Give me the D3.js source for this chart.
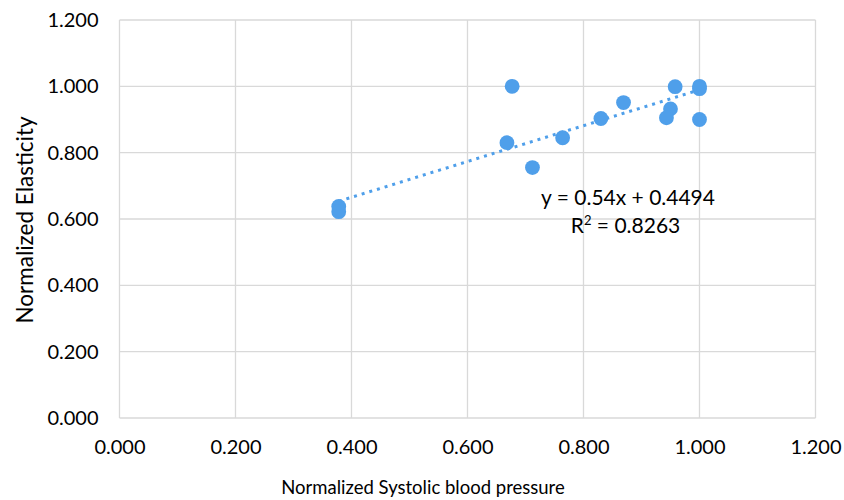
<!DOCTYPE html>
<html>
<head>
<meta charset="utf-8">
<script src="https://cdn.jsdelivr.net/npm/d3@7"></script>
<style>
  html, body { margin: 0; padding: 0; background: #fff; }
  svg { display: block; }
  text { font-family: Lato, "Open Sans", sans-serif; fill: #000; }
</style>
</head>
<body>
<svg id="chart" width="844" height="500"></svg>
<script>
// Normalized systolic blood pressure (x) vs normalized elasticity (y)
const pressure   = [0.378, 0.378, 0.677, 0.668, 0.712, 0.764, 0.830, 0.869, 0.958, 0.950, 0.943, 1.000, 1.000, 1.000];
const elasticity = [0.638, 0.622, 1.000, 0.830, 0.755, 0.845, 0.903, 0.951, 0.999, 0.932, 0.905, 1.000, 0.993, 0.900];
const xTicks = [0, 0.2, 0.4, 0.6, 0.8, 1.0, 1.2];
const yTicks = [0, 0.2, 0.4, 0.6, 0.8, 1.0, 1.2];
// Linear trendline coefficients
const slope = 0.54;
const intercept = 0.4494;
const rSquared = 0.8263;

const svg = d3.select("#chart");
const x = d3.scaleLinear().domain([0, 1.2]).range([119.5, 815.5]);
const y = d3.scaleLinear().domain([0, 1.2]).range([418, 20]);
const color = "#4f9fea";
const grid = "#d9d9d9";
const fmt = d3.format(".3f");

// Gridlines
svg.append("g").selectAll("line").data(yTicks).join("line")
  .attr("x1", x(0)).attr("x2", x(1.2))
  .attr("y1", d => y(d)).attr("y2", d => y(d))
  .attr("stroke", grid).attr("stroke-width", 1.3);
svg.append("g").selectAll("line").data(xTicks).join("line")
  .attr("y1", y(0)).attr("y2", y(1.2))
  .attr("x1", d => x(d)).attr("x2", d => x(d))
  .attr("stroke", grid).attr("stroke-width", 1.3);

// Axes (labels only)
const xAxis = svg.append("g").attr("transform", `translate(0,${y(0)})`)
  .call(d3.axisBottom(x).tickValues(xTicks).tickFormat(fmt).tickSize(0).tickPadding(22));
const yAxis = svg.append("g").attr("transform", `translate(${x(0)},0)`)
  .call(d3.axisLeft(y).tickValues(yTicks).tickFormat(fmt).tickSize(0).tickPadding(21));
[xAxis, yAxis].forEach(g => {
  g.select(".domain").remove();
  g.selectAll("text").attr("font-size", 20).attr("fill", "#1a1a1a")
    .style("font-family", "Lato, 'Open Sans', sans-serif");
});

// Trendline (dotted)
const xs = d3.extent(pressure);
svg.append("line")
  .attr("x1", x(xs[0])).attr("y1", y(slope * xs[0] + intercept))
  .attr("x2", x(xs[1])).attr("y2", y(slope * xs[1] + intercept))
  .attr("stroke", color).attr("stroke-width", 3)
  .attr("stroke-dasharray", "3,5").attr("stroke-linecap", "butt");

// Points
svg.append("g").selectAll("circle").data(pressure.map((p, i) => [p, elasticity[i]])).join("circle")
  .attr("cx", d => x(d[0])).attr("cy", d => y(d[1])).attr("r", 7.4)
  .attr("fill", color);

// Equation label
svg.append("text").attr("x", 628).attr("y", 205).attr("text-anchor", "middle")
  .attr("font-size", 21).text(`y = ${slope}x + ${intercept}`);
const r2 = svg.append("text").attr("x", 625.5).attr("y", 233).attr("text-anchor", "middle")
  .attr("font-size", 21);
r2.append("tspan").text("R");
r2.append("tspan").attr("font-size", 13).attr("dy", -8).text("2");
r2.append("tspan").attr("dy", 8).text(` = ${rSquared}`);

// Axis titles
svg.append("text").attr("x", 423).attr("y", 494).attr("text-anchor", "middle")
  .attr("font-size", 18.5).text("Normalized Systolic blood pressure");
svg.append("text").attr("transform", `translate(33,220) rotate(-90)`)
  .attr("text-anchor", "middle").attr("font-size", 22.5).text("Normalized Elasticity");
</script>
</body>
</html>
